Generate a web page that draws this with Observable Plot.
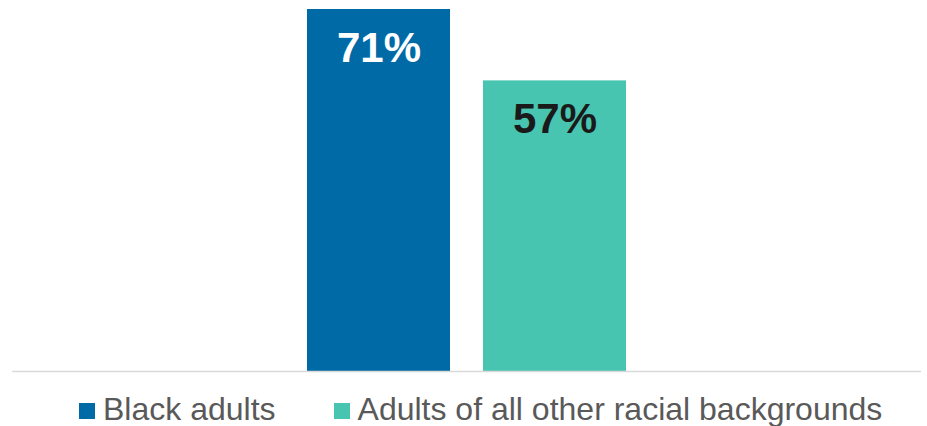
<!DOCTYPE html>
<html>
<head>
<meta charset="utf-8">
<script src="https://cdn.jsdelivr.net/npm/d3@7"></script>
<script src="https://cdn.jsdelivr.net/npm/@observablehq/plot@0.6"></script>
<style>
  html, body { margin: 0; padding: 0; background: #fff; }
  body { position: relative; width: 927px; height: 426px; overflow: hidden; font-family: "Liberation Sans", Arial, sans-serif; }
  #legend { position: absolute; left: 79px; top: 392px; display: flex; align-items: flex-start; height: 34px; }
  .item { display: flex; align-items: flex-start; margin-right: 58px; }
  .sw { width: 16px; height: 16px; margin-right: 8px; margin-top: 11px; }
  .lbl { font-size: 32px; color: #595959; line-height: 34px; white-space: nowrap; }
</style>
</head>
<body>
<div id="chart"></div>
<div id="legend"></div>
<script>
const categories = ["Black adults", "Adults of all other racial backgrounds"];
const values = [71, 57];
const colors = ["#006aa7", "#48c5b0"];
const labelColors = ["#ffffff", "#1a1a1a"];

const data = categories.map((c, i) => ({category: c, value: values[i], label: values[i] + "%"}));

const chart = Plot.plot({
  width: 927,
  height: 378,
  marginLeft: 12,
  marginRight: 6,
  marginTop: 9,
  marginBottom: 7,
  x: {domain: categories, range: [307, 626], paddingInner: 0.1875, paddingOuter: 0, axis: null},
  y: {domain: [0, 71], axis: null},
  color: {domain: categories, range: colors},
  marks: [
    Plot.barY(data, {x: "category", y: "value", fill: "category"}),
    Plot.ruleY([0], {stroke: "#d9d9d9", strokeWidth: 1.5}),
    Plot.text(data, {
      x: "category", y: "value", text: "label",
      fill: (d) => labelColors[categories.indexOf(d.category)],
      fontSize: 42, fontWeight: "bold", fontFamily: "Liberation Sans, Arial, sans-serif",
      dy: 39, lineAnchor: "middle"
    })
  ]
});
document.getElementById("chart").appendChild(chart);

const legend = document.getElementById("legend");
categories.forEach((c, i) => {
  const item = document.createElement("div");
  item.className = "item";
  const sw = document.createElement("div");
  sw.className = "sw";
  sw.style.background = colors[i];
  const lbl = document.createElement("span");
  lbl.className = "lbl";
  lbl.textContent = c;
  item.appendChild(sw);
  item.appendChild(lbl);
  legend.appendChild(item);
});
</script>
</body>
</html>
